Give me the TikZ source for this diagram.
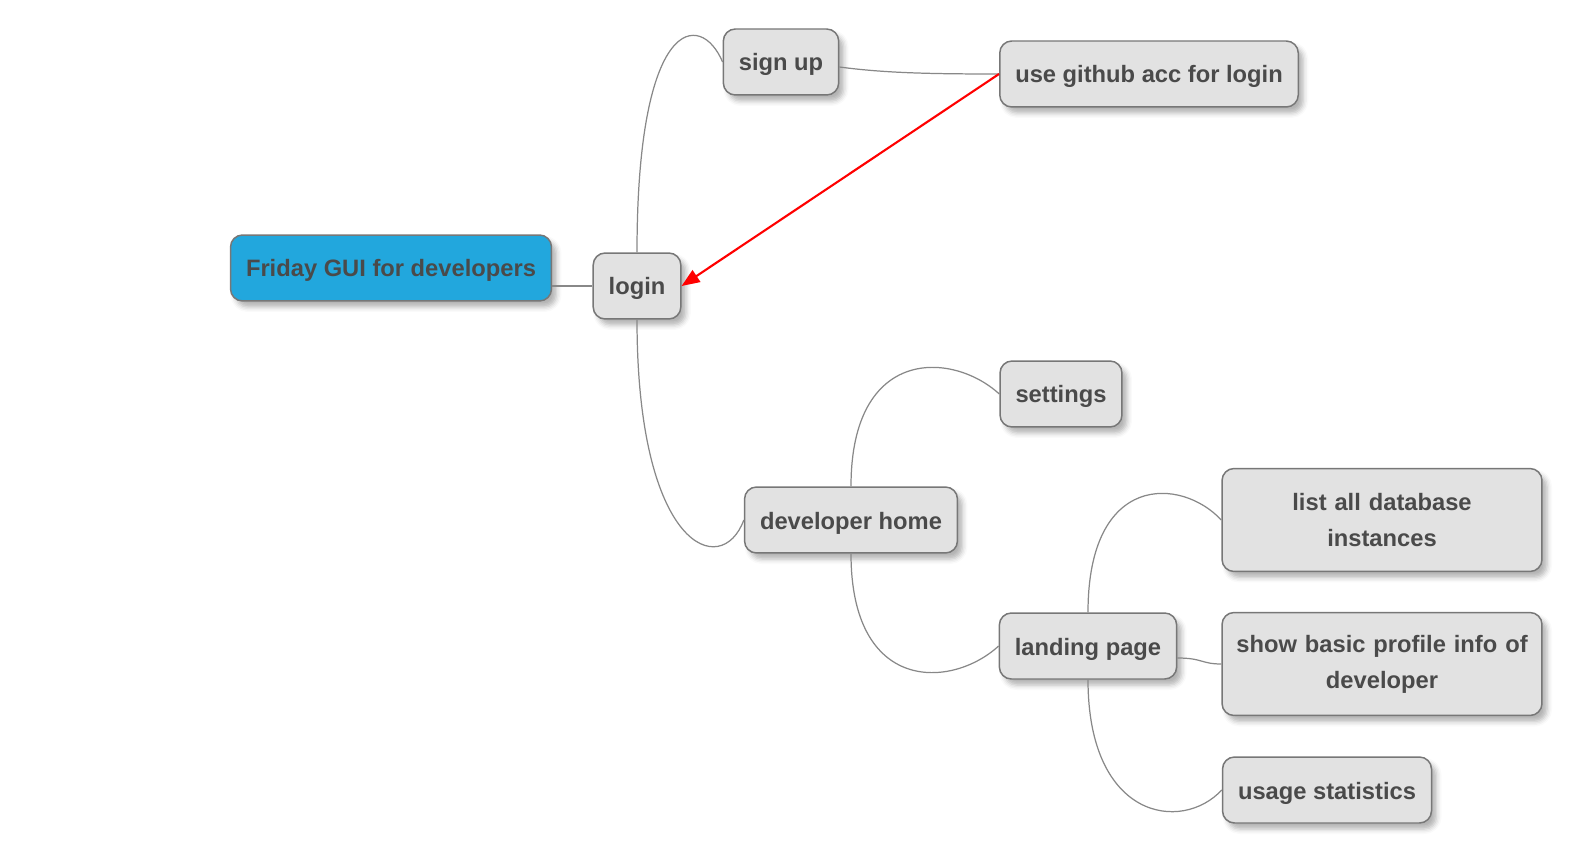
\documentclass[tikz,border=0pt]{standalone}
\usepackage{fontspec}
\setmainfont{Liberation Sans}
\usepackage{xcolor}
\definecolor{nodefill}{HTML}{E2E2E2}
\definecolor{nodeline}{HTML}{777777}
\definecolor{nodetext}{HTML}{4A4A4A}
\definecolor{rootfill}{HTML}{22A7DD}
\definecolor{edgeline}{HTML}{888888}
\usepackage{tikz}
\usetikzlibrary{arrows.meta,positioning,calc,shadows,shadows.blur}

\begin{document}
\begin{tikzpicture}[
  x=0.02cm, y=-0.02cm, >=Stealth,
  topic/.style={rectangle, rounded corners=0.24cm, draw=nodeline, line width=0.85pt,
    fill=nodefill, text=nodetext, font=\bfseries\fontsize{13.5}{20.4}\selectfont,
    minimum height=1.32cm, inner xsep=0.31cm, align=center,
    text height=0.46cm, text depth=0.1cm,
    blur shadow={shadow xshift=0.1cm, shadow yshift=-0.12cm, shadow blur radius=0.1cm,
      shadow opacity=30}},
  rootnode/.style={topic, fill=rootfill},
  wide/.style={topic, text height={}, text depth={}, inner xsep=0.15cm,
    text width=6.1cm, minimum height=2.06cm},
  link/.style={draw=edgeline, line width=0.7pt},
  relation/.style={draw=red, line width=1.2pt, -{Triangle[length=0.36cm, width=0.28cm]}},
]
  \useasboundingbox (0,0) rectangle (1574,854);

  % topics
  \node[rootnode] (root) at (391,268) {Friday GUI for developers};
  \node[topic] (login) at (637,286) {login};
  \node[topic] (signup) at (781,62) {sign up};
  \node[topic] (github) at (1149,74) {use github acc for login};
  \node[topic] (devhome) at (851,520) {developer home};
  \node[topic] (settings) at (1061,394) {settings};
  \node[topic] (landing) at (1088,646) {landing page};
  \node[wide] (listdb) at (1382,520) {list all database\\instances};
  \node[wide] (profile) at (1382,664) {show basic profile info of\\developer};
  \node[topic] (usage) at (1327,790) {usage statistics};

  % branches
  \draw[link] (root.east |- login.west) -- (login.west);
  \draw[link] (login.north) .. controls +(0,-237) and +(-22,-52) .. (signup.west);
  \draw[link] ([yshift=-0.1cm]signup.east) .. controls +(45,6) and +(-70,0) .. (github.west);
  \draw[link] (login.south) .. controls +(0,230) and +(-22,60) .. (devhome.west);
  \draw[link] (devhome.north) .. controls +(0,-140) and +(-47,-43) .. (settings.west);
  \draw[link] (devhome.south) .. controls +(0,140) and +(-47,43) .. (landing.west);
  \draw[link] (landing.north) .. controls +(0,-140) and +(-40,-43) .. (listdb.west);
  \draw[link] ([yshift=-0.24cm]landing.east) .. controls +(25,0) and +(-20,0) .. (profile.west);
  \draw[link] (landing.south) .. controls +(0,140) and +(-40,43) .. (usage.west);

  % cross link
  \draw[relation] (github.west) -- (login.east);
\end{tikzpicture}
\end{document}
